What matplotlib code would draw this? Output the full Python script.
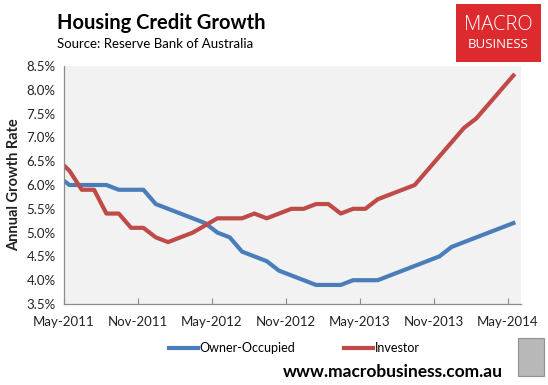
import numpy as np
import pandas as pd
import matplotlib.pyplot as plt
from matplotlib.patches import Rectangle
from matplotlib.ticker import FuncFormatter

# monthly growth rates (%), Apr-2011 .. May-2014 (first point sits just left of the axis)
months = pd.period_range('2011-04', '2014-05', freq='M')
owner_occupied = [6.2, 6.0, 6.0, 6.0, 6.0, 5.9, 5.9, 5.9, 5.6, 5.5, 5.4, 5.3, 5.2,
                  5.0, 4.9, 4.6, 4.5, 4.4, 4.2, 4.1, 4.0, 3.9, 3.9, 3.9, 4.0, 4.0,
                  4.0, 4.1, 4.2, 4.3, 4.4, 4.5, 4.7, 4.8, 4.9, 5.0, 5.1, 5.2]
investor = [6.55, 6.3, 5.9, 5.9, 5.4, 5.4, 5.1, 5.1, 4.9, 4.8, 4.9, 5.0, 5.15,
            5.3, 5.3, 5.3, 5.4, 5.3, 5.4, 5.5, 5.5, 5.6, 5.6, 5.4, 5.5, 5.5,
            5.7, 5.8, 5.9, 6.0, 6.3, 6.6, 6.9, 7.2, 7.4, 7.7, 8.0, 8.3]
tick_labels = ['May-2011', 'Nov-2011', 'May-2012', 'Nov-2012', 'May-2013', 'Nov-2013', 'May-2014']

BLUE = '#4A7EBB'
RED = '#BE4B48'
FONT = 'Lato'

plt.rcParams['font.family'] = [FONT, 'DejaVu Sans']

start = pd.Period('2011-05', freq='M')
x = np.array([(m - start).n for m in months]) + 0.44

fig = plt.figure(figsize=(5.48, 3.85), dpi=100)
ax = fig.add_axes([64 / 548, 1 - 304 / 385, 457 / 548, 238 / 385])
ax.set_facecolor('#F2F2F2')

l1, = ax.plot(x, owner_occupied, color=BLUE, lw=3.0, solid_joinstyle='round', label='Owner-Occupied')
l2, = ax.plot(x, investor, color=RED, lw=3.0, solid_joinstyle='round', label='Investor')

ax.set_xlim(0, 37.06)
ax.set_ylim(3.5, 8.5)
ax.set_xticks(np.arange(0, 37, 6))
ax.set_xticklabels(tick_labels)
ax.set_yticks(np.arange(3.5, 8.51, 0.5))
ax.yaxis.set_major_formatter(FuncFormatter(lambda v, p: f'{v:.1f}%'))

for s in ['top', 'right']:
    ax.spines[s].set_visible(False)
for s in ['left', 'bottom']:
    ax.spines[s].set_color('#8C8C8C')
    ax.spines[s].set_linewidth(0.9)
ax.tick_params(axis='x', direction='in', length=4, color='#8C8C8C', labelsize=9.5,
               labelcolor='#222222', pad=9)
ax.tick_params(axis='y', length=0, labelsize=9.5, labelcolor='#222222', pad=6)

fig.text(14 / 548, 1 - 185 / 385, 'Annual Growth Rate', rotation=90, ha='center', va='center',
         fontsize=10.5, fontweight='bold', color='#222222')

# titles
fig.text(57 / 548, 1 - 23 / 385, 'Housing Credit Growth', fontsize=14.5, fontweight='bold',
         ha='left', va='center', color='black')
fig.text(57 / 548, 1 - 44 / 385, 'Source: Reserve Bank of Australia', fontsize=9.5,
         ha='left', va='center', color='black')

# legend
fig.legend(handles=[l1, l2], loc='center left', bbox_to_anchor=(158 / 548, 1 - 348 / 385),
           ncol=2, frameon=False, fontsize=9, handlelength=2.3, handletextpad=0.15,
           columnspacing=3.9)

# footer
fig.text(503 / 548, 1 - 372 / 385, 'www.macrobusiness.com.au', fontsize=12.5, fontweight='bold',
         ha='right', va='center', color='black')

# logo
fig.patches.append(Rectangle((456 / 548, 1 - 62 / 385), 85 / 548, 58 / 385,
                             transform=fig.transFigure, facecolor='#DD2A2E', edgecolor='none'))
fig.text(498 / 548, 1 - 25 / 385, 'MACRO', fontsize=14.5, color='white', ha='center', va='center',
         family=['Open Sans', 'DejaVu Sans'], fontweight='light')
fig.text(498 / 548, 1 - 45 / 385, 'BUSINESS', fontsize=9.5, color='white', ha='center', va='center',
         family=['Open Sans', 'DejaVu Sans'])

# wolf badge placeholder
fig.patches.append(Rectangle((518 / 548, 1 - 376 / 385), 26 / 548, 38 / 385,
                             transform=fig.transFigure, facecolor='#B8B8B8', edgecolor='#909090',
                             linewidth=0.8))

fig.savefig('out.png', dpi=100)
